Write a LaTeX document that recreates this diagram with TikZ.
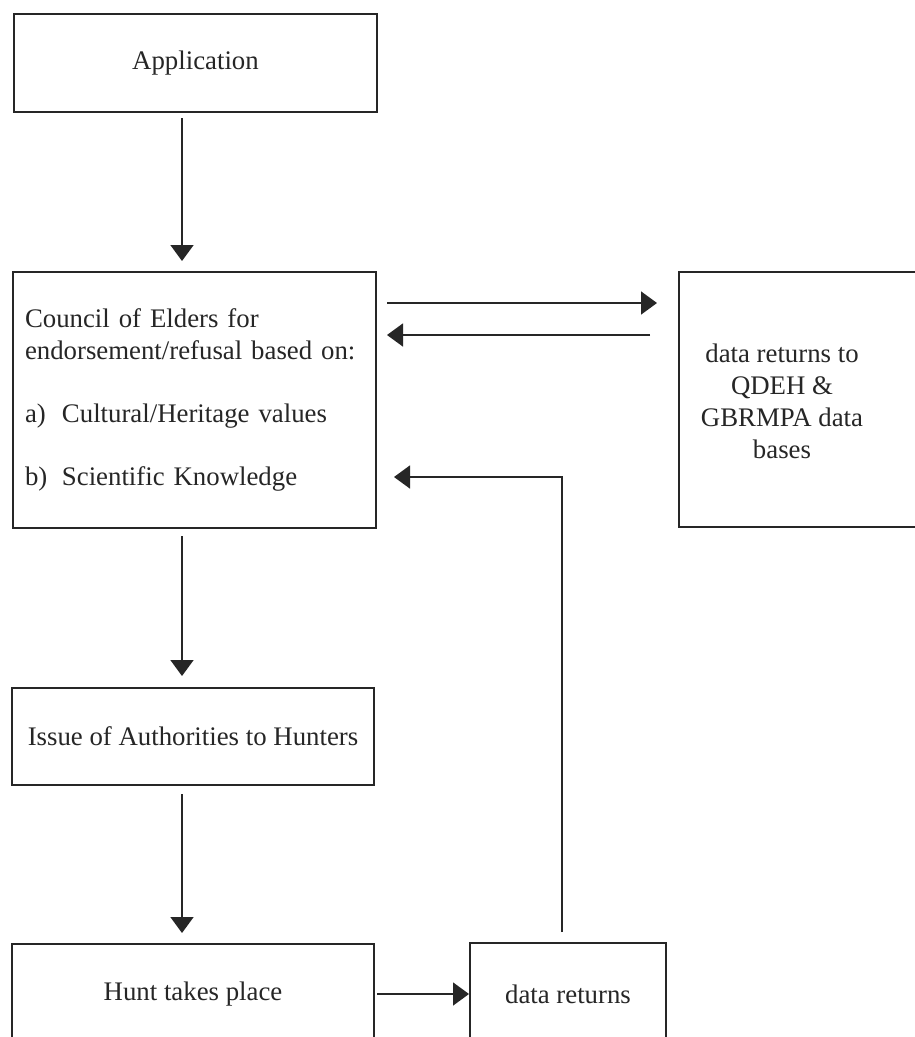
\documentclass[tikz,border=0pt]{standalone}
\usepackage{fontspec}
\setmainfont{Liberation Serif}
\usetikzlibrary{arrows.meta}

\definecolor{ink}{gray}{0.15}
\tikzset{>={Triangle[length=16pt,width=23pt]}}
\tikzset{
  box/.style={draw=ink, line width=2pt, rectangle, inner sep=0pt, text=ink},
  flow/.style={->, draw=ink, line width=1.6pt}
}

\begin{document}
\begin{tikzpicture}[x=1pt, y=-1pt, font=\fontsize{26.8}{32}\selectfont]

			\clip (0,0) rectangle (915,1037);
			\fill[white] (0,0) rectangle (915,1037);

			\node[box, minimum width=363, minimum height=98] (app) at (195.5,63) {Application};
			\node[box, minimum width=363, minimum height=256, text width=339, inner xsep=12pt, align=left] (council) at (194.5,400)
				{Council of Elders for\\ endorsement/refusal based on:\\[31pt]
				 \makebox[37pt][l]{a)}Cultural/Heritage values\\[31pt]
				 \makebox[37pt][l]{b)}Scientific Knowledge};
			\node[box, minimum width=260, minimum height=255] (dbase) at (809,399.5) {};
			\node[text=ink, align=center] (dbasetext) at (782,401) {data returns to\\ QDEH \&\\ GBRMPA data\\ bases};
			\node[box, minimum width=362, minimum height=97] (issue) at (193,736.5) {Issue of Authorities to Hunters};
			\node[box, minimum width=362, minimum height=100] (hunt) at (193,994) {Hunt takes place};
			\node[box, minimum width=196, minimum height=102] (data) at (568,994) {data returns};

			\coordinate (spine) at (182,0);
			\coordinate (toRow) at (0,303);
			\coordinate (backRow) at (0,335);
			\coordinate (upCol) at (562,477);

			\draw[flow, shorten <=5pt, shorten >=10pt] (app.south -| spine) -- (council.north -| spine);
			\draw[flow, shorten <=7pt, shorten >=11pt] (council.south -| spine) -- (issue.north -| spine);
			\draw[flow, shorten <=8pt, shorten >=10pt] (issue.south -| spine) -- (hunt.north -| spine);
			\draw[flow, shorten <=10pt, shorten >=21pt] (council.east |- toRow) -- (dbase.west |- toRow);
			\draw[flow, shorten <=28pt, shorten >=10pt] (dbase.west |- backRow) -- (council.east |- backRow);
			\draw[flow, shorten <=2pt] (hunt.east) -- (data.west);
			\draw[flow, shorten <=10pt, shorten >=17pt] (data.north -| upCol) |- (council.east |- upCol);

		\end{tikzpicture}
\end{document}
